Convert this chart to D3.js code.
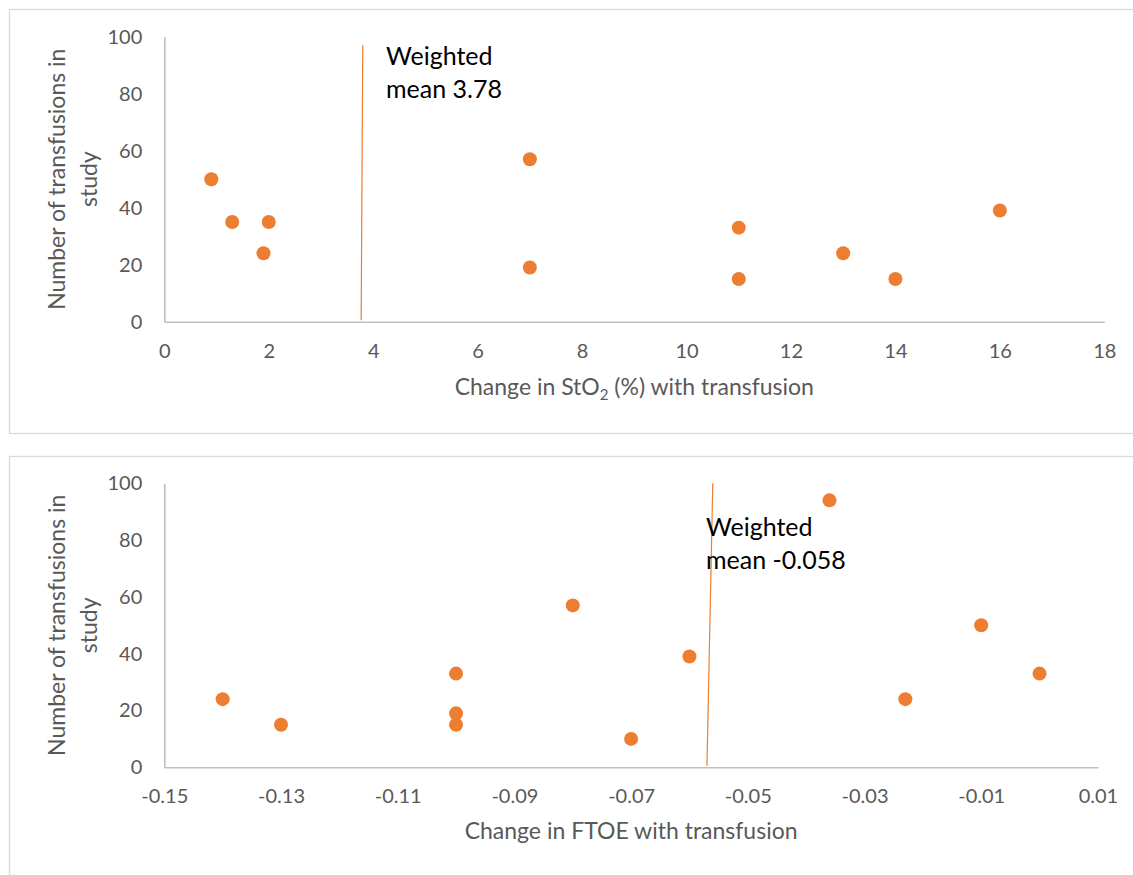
<!DOCTYPE html>
<html>
<head>
<meta charset="utf-8">
<script src="https://cdn.jsdelivr.net/npm/d3@7"></script>
<style>
  html, body { margin: 0; padding: 0; background: #fff; }
  svg { display: block; }
  text { font-family: Lato, "Open Sans", sans-serif; }
</style>
</head>
<body>
<svg id="chart" width="1133" height="875"></svg>
<script>
// ---------- DATA ----------
// Top panel: change in StO2 (%) vs number of transfusions
const stoChange = [0.9, 1.3, 2.0, 1.9, 7, 7, 11, 11, 13, 14, 16];
const stoCount  = [50, 35, 35, 24, 57, 19, 33, 15, 24, 15, 39];
const stoTicksX = [0, 2, 4, 6, 8, 10, 12, 14, 16, 18];
const stoMeanLabel = ["Weighted", "mean 3.78"];
const stoMeanLineX = [3.77, 3.80];   // bottom, top (hand-drawn line)
const stoMeanLineY = [0.5, 97];

// Bottom panel: change in FTOE vs number of transfusions
const ftoeChange = [-0.14, -0.13, -0.10, -0.10, -0.10, -0.08, -0.07, -0.06, -0.036, -0.023, -0.01, 0.0];
const ftoeCount  = [24, 15, 33, 19, 15, 57, 10, 39, 94, 24, 50, 33];
const ftoeTicksX = [-0.15, -0.13, -0.11, -0.09, -0.07, -0.05, -0.03, -0.01, 0.01];
const ftoeMeanLabel = ["Weighted", "mean -0.058"];
const ftoeMeanLineX = [-0.057, -0.056]; // bottom, top
const ftoeMeanLineY = [0.5, 100];

const countTicks = [0, 20, 40, 60, 80, 100];
const yTitle = ["Number of transfusions in", "study"];

// ---------- STYLE ----------
const ORANGE = "#ED7D31";
const AXIS = "#BFBFBF";
const LABEL = "#595959";
const BORDER = "#D9D9D9";

const svg = d3.select("#chart");

function panel(opts) {
  const g = svg.append("g");
  // frame
  g.append("rect")
    .attr("x", 9.5).attr("y", opts.frameTop + 0.5)
    .attr("width", 1140).attr("height", opts.frameH)
    .attr("fill", "none").attr("stroke", BORDER).attr("stroke-width", 1.3);

  const x = d3.scaleLinear().domain(opts.xDomain).range([opts.left, opts.right]);
  const y = d3.scaleLinear().domain([0, 100]).range([opts.bottom, opts.top]);

  // x axis
  const xAxis = g.append("g")
    .attr("transform", `translate(0,${opts.bottom})`)
    .call(d3.axisBottom(x).tickValues(opts.xTicks).tickSize(0).tickPadding(22)
      .tickFormat(opts.xFormat));
  // y axis
  const yAxis = g.append("g")
    .attr("transform", `translate(${opts.left},0)`)
    .call(d3.axisLeft(y).tickValues(countTicks).tickSize(0).tickPadding(22));

  [xAxis, yAxis].forEach(a => {
    a.select(".domain").attr("stroke", AXIS).attr("stroke-width", 1.6);
    a.selectAll("text").attr("fill", LABEL).style("font-size", "20px")
      .style("font-family", "Lato, 'Open Sans', sans-serif");
  });

  // weighted mean line
  g.append("line")
    .attr("x1", x(opts.meanX[0])).attr("y1", y(opts.meanY[0]))
    .attr("x2", x(opts.meanX[1])).attr("y2", y(opts.meanY[1]))
    .attr("stroke", ORANGE).attr("stroke-width", 1.2);

  // points
  g.selectAll("circle.pt").data(opts.xs.map((v, i) => [v, opts.ys[i]]))
    .join("circle").attr("class", "pt")
    .attr("cx", d => x(d[0])).attr("cy", d => y(d[1]))
    .attr("r", 7).attr("fill", ORANGE);

  // weighted mean label
  const lbl = g.append("text")
    .attr("x", opts.labelX).attr("y", opts.labelY)
    .attr("fill", "#000").style("font-size", "25px");
  opts.meanLabel.forEach((t, i) => {
    lbl.append("tspan").attr("x", opts.labelX).attr("dy", i === 0 ? 0 : 33).text(t);
  });

  // x title
  const xt = g.append("text")
    .attr("x", (opts.left + opts.right) / 2).attr("y", opts.xTitleY)
    .attr("text-anchor", "middle").attr("fill", LABEL).style("font-size", "23px");
  opts.xTitle(xt);

  // y title (two lines, rotated)
  const cy = (opts.top + opts.bottom) / 2;
  const yt = g.append("text")
    .attr("transform", `translate(65,${cy}) rotate(-90)`)
    .attr("text-anchor", "middle").attr("fill", LABEL).style("font-size", "23px");
  yTitle.forEach((t, i) => {
    yt.append("tspan").attr("x", 0).attr("dy", i === 0 ? 0 : 31.5).text(t);
  });
}

panel({
  frameTop: 9, frameH: 424,
  left: 164.3, right: 1104.3, top: 36.7, bottom: 321.7,
  xDomain: [0, 18], xTicks: stoTicksX, xFormat: d3.format("d"),
  xs: stoChange, ys: stoCount,
  meanX: stoMeanLineX, meanY: stoMeanLineY,
  meanLabel: stoMeanLabel, labelX: 386, labelY: 65,
  xTitleY: 395,
  xTitle: t => {
    t.append("tspan").text("Change in StO");
    t.append("tspan").attr("dy", 5).style("font-size", "15px").text("2");
    t.append("tspan").attr("dy", -5).text(" (%) with transfusion");
  }
});

panel({
  frameTop: 456, frameH: 500,
  left: 164.3, right: 1097.9, top: 483.3, bottom: 767.3,
  xDomain: [-0.15, 0.01], xTicks: ftoeTicksX, xFormat: d => d3.format(".2f")(d).replace("−", "-"),
  xs: ftoeChange, ys: ftoeCount,
  meanX: ftoeMeanLineX, meanY: ftoeMeanLineY,
  meanLabel: ftoeMeanLabel, labelX: 706, labelY: 536,
  xTitleY: 839,
  xTitle: t => { t.text("Change in FTOE with transfusion"); }
});
</script>
</body>
</html>
